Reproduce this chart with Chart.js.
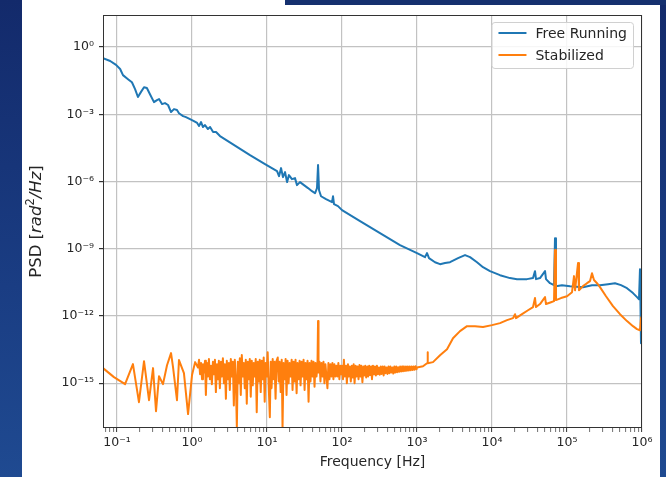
<!DOCTYPE html>
<html>
<head>
<meta charset="utf-8">
<script src="https://cdn.jsdelivr.net/npm/chart.js@4.4.1/dist/chart.umd.min.js"></script>
<style>
  html, body { margin: 0; padding: 0; width: 666px; height: 477px; overflow: hidden; }
  body { position: relative; background: linear-gradient(180deg, #132a6b 0%, #1a3d83 60%, #1f4a91 100%); }
  #panel { position: absolute; left: 22px; top: 0; width: 638px; height: 477px; background: #fff; }
  #topbar { position: absolute; left: 285px; top: 0; width: 381px; height: 5px; background: #15306f; }
  #psdChart { position: absolute; left: 0; top: 0; }
</style>
</head>
<body>
<div id="panel"></div>
<div id="topbar"></div>
<canvas id="psdChart" width="666" height="477"></canvas>
<script>
const seriesNames = ['Free Running', 'Stabilized'];
const seriesColors = ['#1f77b4', '#ff7f0e'];

// free running laser phase noise
const freeFreq = [
  0.065, 0.081, 0.097, 0.11, 0.12, 0.14, 0.158, 0.174, 0.19, 0.209,
  0.229, 0.25, 0.275, 0.311, 0.341, 0.363, 0.398, 0.436, 0.479, 0.525,
  0.575, 0.63, 0.67, 0.76, 0.83, 0.94, 1.06, 1.17, 1.24, 1.32,
  1.40, 1.49, 1.63, 1.74, 1.91, 2.09, 2.36, 5.93, 9.4, 13.6,
  14.45, 15.4, 16.3, 17.4, 18.5, 19.6, 21.5, 23.6, 25.1, 27.5,
  31.1, 35.2, 39.8, 43.7, 46.4, 47.9, 49.4, 52.5, 61.2, 73.6,
  75.9, 78.2, 88.4, 100, 174, 321, 593, 1000, 1278, 1359,
  1445, 1738, 2028, 2362, 2754, 3524, 4365, 5093, 6310, 7586,
  9397, 12790, 17380, 21540, 29290, 35240, 37440, 38620, 43650, 50930,
  52480, 59330, 67140, 69180, 71290, 85770, 109600, 163300, 215400, 275400,
  352400, 436500, 524800, 631000, 758600, 857700, 912000, 940000, 970000, 1000000
];
const freePsd = [
  0.32, 0.24, 0.16, 0.105, 0.056, 0.037, 0.027, 0.0133, 0.0059, 0.010,
  0.016, 0.0148, 0.0079, 0.0035, 0.0043, 0.0048, 0.00285, 0.00316, 0.0026, 0.00126,
  0.0017, 0.00155, 0.00112, 0.00083, 0.00075, 0.00061, 0.0005, 0.00041, 0.0003, 0.00045,
  0.00027, 0.00033, 0.00022, 0.00027, 0.000162, 0.000162, 0.000107, 1.51e-5, 6.0e-6, 2.91e-6,
  1.74e-6, 3.96e-6, 1.57e-6, 2.63e-6, 9.4e-7, 1.93e-6, 1.28e-6, 1.42e-6, 6.9e-7, 9.4e-7,
  6.9e-7, 5.1e-7, 3.7e-7, 3.0e-7, 5.1e-7, 5.4e-6, 4.1e-7, 2.2e-7, 1.64e-7, 1.2e-7,
  2.2e-7, 9.8e-8, 8e-8, 5.3e-8, 1.7e-8, 5.0e-9, 1.45e-9, 6.4e-10, 4.2e-10, 6.4e-10,
  3.8e-10, 2.5e-10, 2.05e-10, 2.3e-10, 2.5e-10, 3.8e-10, 5.2e-10, 4.2e-10, 2.5e-10, 1.5e-10,
  1.0e-10, 6.6e-11, 4.9e-11, 4.4e-11, 4.4e-11, 4.9e-11, 1.0e-10, 4.4e-11, 4.9e-11, 1.0e-10,
  4.4e-11, 2.9e-11, 2.37e-11, 2.97e-9, 2.14e-11, 2.37e-11, 2.14e-11, 1.93e-11, 2.37e-11, 2.37e-11,
  2.63e-11, 2.9e-11, 2.37e-11, 1.74e-11, 1.05e-11, 6.9e-12, 5.6e-12, 1.23e-10, 6.1e-14, 5.1e-12
];

// stabilized laser
const stabFreq = [
  // below 1 Hz
  0.065, 0.091, 0.128, 0.163, 0.196, 0.229, 0.267, 0.302, 0.331, 0.363,
  0.41, 0.464, 0.525, 0.558, 0.63, 0.67, 0.78, 0.885, 1.0, 1.1,
  // 1 - 100 Hz noise floor
  1.20, 1.24, 1.28, 1.32, 1.36, 1.40, 1.44, 1.49, 1.53, 1.58,
  1.63, 1.68, 1.73, 1.79, 1.84, 1.90, 1.96, 2.02, 2.08, 2.15,
  2.21, 2.28, 2.35, 2.43, 2.50, 2.58, 2.66, 2.74, 2.83, 2.91,
  3.00, 3.10, 3.19, 3.29, 3.40, 3.50, 3.61, 3.72, 3.84, 3.96,
  4.08, 4.21, 4.34, 4.47, 4.61, 4.75, 4.90, 5.05, 5.21, 5.37,
  5.54, 5.71, 5.89, 6.07, 6.26, 6.45, 6.65, 6.86, 7.07, 7.29,
  7.52, 7.75, 7.99, 8.24, 8.50, 8.76, 9.03, 9.31, 9.60, 9.90,
  10.2, 10.5, 10.9, 11.2, 11.5, 11.9, 12.3, 12.6, 13.0, 13.4,
  13.9, 14.3, 14.7, 15.2, 15.7, 16.1, 16.6, 17.2, 17.7, 18.2,
  18.8, 19.4, 20.0, 20.6, 21.3, 21.9, 22.6, 23.3, 24.0, 24.8,
  25.5, 26.3, 27.2, 28.0, 28.9, 29.8, 30.7, 31.7, 32.6, 33.7,
  34.7, 35.8, 36.9, 38.0, 39.2, 40.4, 41.7, 43.0, 44.3, 45.7,
  47.1, 47.9, 48.6, 50.1, 51.6, 53.2, 54.9, 56.6, 58.3, 60.1,
  62.0, 63.9, 65.9, 68.0, 70.1, 72.2, 74.5, 76.8, 79.2, 81.6,
  84.1, 86.7, 89.4, 92.2, 95.1, 98.0,
  // 100 Hz - 1 kHz
  100, 103, 106, 109, 113, 116, 120, 123, 127, 131,
  135, 139, 143, 147, 152, 156, 161, 166, 171, 176,
  181, 187, 193, 198, 204, 210, 217, 223, 230, 237,
  244, 251, 259, 267, 275, 283, 292, 300, 310, 319,
  329, 338, 349, 359, 370, 381, 393, 404, 417, 429,
  442, 455, 469, 483, 498, 513, 528, 544, 560, 577,
  595, 613, 631, 650, 670, 690, 711, 732, 754, 777,
  800, 824, 849, 875, 901, 928, 956, 985, 1000,
  // above 1 kHz
  1202, 1359, 1380, 1400, 1633, 2028, 2512, 3020, 3743, 4642,
  5930, 7586, 10000, 12790, 15850, 19050, 20280, 20900, 25120, 30200,
  35240, 37440, 38620, 43650, 50930, 52480, 61200, 67140, 69180, 71290,
  83180, 100000, 116700, 124000, 128000, 140300, 144500, 163300, 184800, 202800,
  215400, 229000, 251200, 275400, 331100, 410200, 508900, 631000, 758600, 857700,
  940000, 970000, 1000000
];
const stabPsd = [
  4.7e-15, 1.86e-15, 9.1e-16, 7.1e-15, 1.42e-16, 9.6e-15, 1.74e-16, 4.7e-15, 5.6e-17, 2.05e-15,
  9.1e-16, 6.3e-15, 2.2e-14, 5.2e-15, 1.74e-16, 1.07e-14, 2.8e-15, 4.2e-17, 2.3e-15, 8.7e-15,

  5e-15, 1.1e-14, 2.5e-15, 8e-15, 1.5e-15, 7e-15, 3e-15, 1e-14, 3e-16, 8e-15,
  2e-15, 1.2e-14, 1.5e-15, 6e-15, 9e-16, 9e-15, 2.5e-15, 1.1e-14, 4e-16, 7e-15,
  1.5e-15, 1e-14, 6e-16, 9e-15, 2e-15, 1.3e-14, 1e-15, 7e-15, 2e-16, 1e-14,
  1.5e-15, 8e-15, 5e-16, 1.2e-14, 2e-15, 9e-15, 1e-16, 1.1e-14, 1.5e-15, 1e-17,
  9e-15, 1e-15, 1.3e-14, 3e-16, 1.8e-14, 2e-15, 8e-15, 6e-16, 1.1e-14, 1.2e-16,
  9e-15, 1.5e-15, 1.2e-14, 2.5e-16, 1e-14, 8e-16, 8e-15, 2e-15, 1.2e-14, 5e-17,
  9e-15, 1.2e-15, 1.1e-14, 4e-16, 1e-14, 1.5e-15, 1.4e-14, 1.5e-16, 8e-15, 2e-15,
  2.4e-14, 1e-15, 3e-17, 9e-15, 6e-16, 1.2e-14, 1.5e-15, 9e-15, 2e-16, 1e-14,
  1.4e-14, 1.2e-15, 9e-15, 4e-16, 1.1e-14, 1e-17, 8e-15, 1.5e-15, 1.2e-14, 3e-16,
  1e-14, 1e-15, 8e-15, 2e-15, 1.1e-14, 5e-16, 9e-15, 1.2e-15, 1.1e-14, 3.6e-16,
  8e-15, 1.5e-15, 1e-14, 8e-16, 9e-15, 2e-15, 1.1e-14, 5e-16, 8e-15, 1.5e-15,
  1e-14, 1.5e-16, 8e-15, 1.2e-15, 1e-14, 2e-15, 9e-15, 7e-16, 8e-15, 2e-15,
  7e-15, 5.9e-13, 3e-15, 9e-15, 1.2e-15, 8e-15, 2e-15, 9e-15, 1e-15, 7e-15,
  2e-15, 6e-16, 8e-15, 1.5e-15, 7e-15, 2e-15, 8e-15, 1.5e-15, 7e-15, 2e-15,
  6e-15, 2e-15, 8e-15, 1.5e-15, 6e-15, 2.5e-15,

  6e-15, 1.5e-15, 1.1e-14, 2e-15, 6e-15, 1e-15, 7e-15, 2e-15, 5.5e-15, 1.2e-15,
  6e-15, 1.8e-15, 7e-15, 1e-15, 6e-15, 2e-15, 5.5e-15, 1.5e-15, 6.5e-15, 2e-15,
  6e-15, 1.1e-15, 5.5e-15, 2.2e-15, 6e-15, 1.8e-15, 5.5e-15, 2e-15, 6e-15, 2.3e-15,
  5.5e-15, 1.5e-15, 6e-15, 2.5e-15, 5.5e-15, 2.2e-15, 6e-15, 2.5e-15, 5e-15, 2.4e-15,
  5.5e-15, 2.6e-15, 5.5e-15, 2.2e-15, 5.5e-15, 2.8e-15, 5e-15, 2.6e-15, 5.5e-15, 2.8e-15,
  5.5e-15, 3e-15, 5e-15, 2.7e-15, 5.5e-15, 3e-15, 5.5e-15, 3.1e-15, 5.2e-15, 3.2e-15,
  5.5e-15, 3.3e-15, 5.5e-15, 3.4e-15, 5.5e-15, 3.5e-15, 5.5e-15, 3.6e-15, 5.5e-15, 3.7e-15,
  5.6e-15, 3.8e-15, 5.6e-15, 3.9e-15, 5.6e-15, 4e-15, 5.7e-15, 4.2e-15, 5e-15,

  5.7e-15, 7.8e-15, 2.4e-14, 7.8e-15, 8.7e-15, 1.78e-14, 3.3e-14, 1.02e-13, 2.1e-13, 3.5e-13,
  3.5e-13, 3.2e-13, 3.9e-13, 4.8e-13, 6.5e-13, 8e-13, 1.2e-12, 8e-13, 1.2e-12, 1.8e-12,
  2.5e-12, 6.3e-12, 2.5e-12, 3.4e-12, 6.9e-12, 3.4e-12, 4.1e-12, 4.6e-12, 8.7e-10, 5.1e-12,
  6.3e-12, 7.6e-12, 1.15e-11, 6e-11, 1.4e-11, 2.3e-10, 1.4e-11, 2.14e-11, 2.9e-11, 3.6e-11,
  8.1e-11, 4e-11, 2.9e-11, 1.93e-11, 7.6e-12, 2.75e-12, 1.2e-12, 5.9e-13, 3.5e-13, 2.6e-13,
  2.3e-13, 8e-13, 1e-12
];

const xTickValues = [1e-1, 1e0, 1e1, 1e2, 1e3, 1e4, 1e5, 1e6];
const xTickLabels = ['10⁻¹', '10⁰', '10¹', '10²', '10³', '10⁴', '10⁵', '10⁶'];
const yTickValues = [1e-15, 1e-12, 1e-9, 1e-6, 1e-3, 1e0];
const yTickLabels = ['10⁻¹⁵', '10⁻¹²', '10⁻⁹', '10⁻⁶', '10⁻³', '10⁰'];

const FONT = '"DejaVu Sans", "Liberation Sans", sans-serif';
const TEXT = '#262626';
const GRID = '#c2c2c2';

if (freeFreq.length !== freePsd.length || stabFreq.length !== stabPsd.length) {
    console.error('series length mismatch', freeFreq.length, freePsd.length, stabFreq.length, stabPsd.length);
}

function toPoints(xs, ys) {
    return xs.map((x, i) => ({ x: x, y: ys[i] }));
}

// major decades plus the 2..9 minor marks, like a matplotlib log axis
function buildXTicks(min, max) {
    const ticks = [];
    xTickValues.forEach((v, i) => ticks.push({ value: v, major: true, text: xTickLabels[i] }));
    const decades = [1e-2].concat(xTickValues);
    decades.forEach(d => {
        for (let k = 2; k <= 9; k++) {
            const v = k * d;
            if (v >= min && v <= max) ticks.push({ value: v, major: false, text: '' });
        }
    });
    return ticks.sort((a, b) => a.value - b.value);
}

const framePlugin = {
    id: 'frameAndLegend',
    afterDraw(chart) {
        const ctx = chart.ctx;
        const a = chart.chartArea;

        // axes box
        ctx.save();
        ctx.strokeStyle = '#333';
        ctx.lineWidth = 1;
        ctx.strokeRect(Math.round(a.left) + 0.5, Math.round(a.top) + 0.5,
            Math.round(a.right - a.left) - 1, Math.round(a.bottom - a.top) - 1);
        ctx.restore();

        // legend, upper right
        ctx.save();
        ctx.font = '14px ' + FONT;
        const textW = Math.max.apply(null, chart.data.datasets.map(d => ctx.measureText(d.label).width));
        const lineLen = 28, padL = 7, gap = 9, padR = 6, rowH = 22;
        const boxW = padL + lineLen + gap + textW + padR;
        const boxH = 46;
        const bx = a.right - 9 - boxW, by = a.top + 7;
        ctx.beginPath();
        ctx.roundRect(bx + 0.5, by + 0.5, boxW, boxH, 3);
        ctx.fillStyle = 'rgba(255,255,255,0.85)';
        ctx.fill();
        ctx.strokeStyle = '#d0d0d0';
        ctx.lineWidth = 1;
        ctx.stroke();
        chart.data.datasets.forEach((d, i) => {
            const cy = by + 11 + i * rowH;
            ctx.beginPath();
            ctx.moveTo(bx + padL, cy);
            ctx.lineTo(bx + padL + lineLen, cy);
            ctx.strokeStyle = d.borderColor;
            ctx.lineWidth = 2;
            ctx.stroke();
            ctx.fillStyle = TEXT;
            ctx.textBaseline = 'middle';
            ctx.textAlign = 'left';
            ctx.fillText(d.label, bx + padL + lineLen + gap, cy + 1);
        });
        ctx.restore();

        // y axis title with the italic unit, as matplotlib mathtext draws it
        const parts = [
            { t: 'PSD [', f: '16.5px ' + FONT, dy: 0 },
            { t: 'rad', f: 'italic 16.5px ' + FONT, dy: 0 },
            { t: '2', f: '11.5px ' + FONT, dy: -6 },
            { t: '/Hz', f: 'italic 16.5px ' + FONT, dy: 0 },
            { t: ']', f: '16.5px ' + FONT, dy: 0 }
        ];
        ctx.save();
        let total = 0;
        parts.forEach(p => { ctx.font = p.f; p.w = ctx.measureText(p.t).width; total += p.w; });
        ctx.translate(37, (a.top + a.bottom) / 2);
        ctx.rotate(-Math.PI / 2);
        ctx.fillStyle = TEXT;
        ctx.textBaseline = 'middle';
        ctx.textAlign = 'left';
        let px = -total / 2;
        parts.forEach(p => { ctx.font = p.f; ctx.fillText(p.t, px, p.dy); px += p.w; });
        ctx.restore();
    }
};

function renderPsdChart() {
    const canvas = document.getElementById('psdChart');
    const ctx = canvas.getContext('2d');

    const datasets = [
        { label: seriesNames[0], data: toPoints(freeFreq, freePsd), borderColor: seriesColors[0], order: 1 },
        { label: seriesNames[1], data: toPoints(stabFreq, stabPsd), borderColor: seriesColors[1], order: 0 }
    ].map(d => Object.assign(d, {
        borderWidth: 2,
        pointRadius: 0,
        tension: 0,
        fill: false,
        borderJoinStyle: 'round'
    }));

    new Chart(ctx, {
        type: 'line',
        data: { datasets: datasets },
        options: {
            responsive: false,
            animation: false,
            devicePixelRatio: 1,
            events: [],
            layout: { padding: { left: 0, top: 15, right: 24, bottom: 0 } },
            scales: {
                x: {
                    type: 'logarithmic',
                    position: 'bottom',
                    min: 0.065,
                    max: 1e6,
                    afterBuildTicks: axis => { axis.ticks = buildXTicks(axis.min, axis.max); },
                    afterFit: axis => { axis.height = 49; },
                    border: { display: false },
                    grid: {
                        color: c => (c.tick && c.tick.major) ? GRID : 'rgba(0,0,0,0)',
                        lineWidth: 1.2,
                        tickLength: 4,
                        tickColor: '#333',
                        tickWidth: c => (c.tick && c.tick.major) ? 1 : 0.7
                    },
                    ticks: {
                        autoSkip: false,
                        maxRotation: 0,
                        padding: 3,
                        color: TEXT,
                        font: { family: FONT, size: 12.5 },
                        callback: (value, i, ticks) => ticks[i].text
                    },
                    title: {
                        display: true,
                        text: 'Frequency [Hz]',
                        color: TEXT,
                        font: { family: FONT, size: 14 },
                        padding: { top: 0, bottom: 6 }
                    }
                },
                y: {
                    type: 'logarithmic',
                    position: 'left',
                    min: 1e-17,
                    max: 27,
                    afterBuildTicks: axis => {
                        axis.ticks = yTickValues.map((v, i) => ({ value: v, major: true, text: yTickLabels[i] }));
                    },
                    afterFit: axis => { axis.width = 103; },
                    border: { display: false },
                    grid: {
                        color: GRID,
                        lineWidth: 1.2,
                        tickLength: 4,
                        tickColor: '#333'
                    },
                    ticks: {
                        autoSkip: false,
                        padding: 5,
                        color: TEXT,
                        font: { family: FONT, size: 12.5 },
                        callback: (value, i, ticks) => ticks[i].text
                    }
                }
            },
            plugins: {
                legend: { display: false },
                tooltip: { enabled: false }
            }
        },
        plugins: [framePlugin]
    });
}

renderPsdChart();
</script>
</body>
</html>
